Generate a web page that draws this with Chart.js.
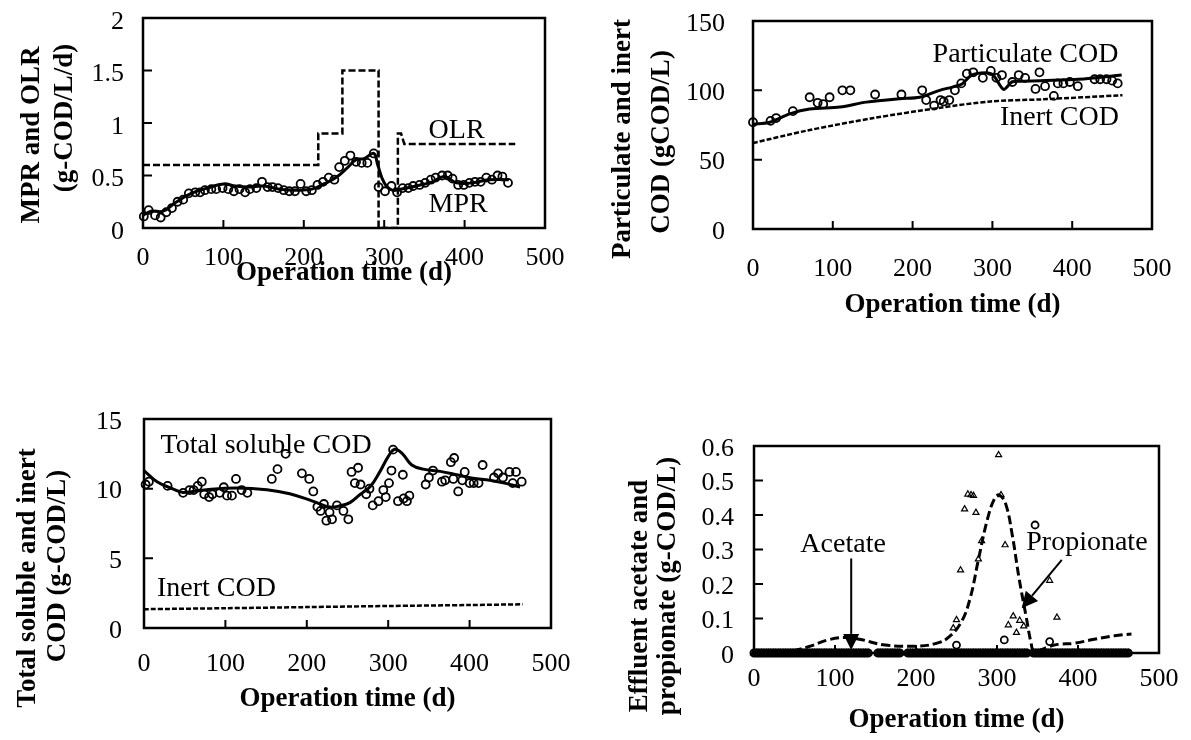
<!DOCTYPE html>
<html lang="en">
<head>
  <meta charset="UTF-8" />
  <title>Digester operation - model vs data</title>
  <script src="https://cdn.jsdelivr.net/npm/chart.js"></script>
  <style>
    body { margin: 0; background: #fff; }
    .wrap { position: relative; width: 1191px; height: 740px; overflow: hidden; }
    canvas { position: absolute; }
  </style>
</head>
<body>
  <div class="wrap">
    <canvas id="c1" width="590" height="295" style="left:0;top:0"></canvas>
    <canvas id="c2" width="601" height="330" style="left:590px;top:0"></canvas>
    <canvas id="c3" width="590" height="350" style="left:0;top:390px"></canvas>
    <canvas id="c4" width="601" height="340" style="left:590px;top:400px"></canvas>
  </div>

  <script>
    // ---- panel 1 : MPR and OLR ----
    const mprDays = [1, 7, 15, 22, 29, 36, 43, 50, 57, 65, 71, 77, 85, 91, 99, 106, 113, 120, 127, 133,
      141, 148, 155, 161, 168, 175, 182, 189, 196, 203, 210, 217, 224, 231, 238, 244, 251, 258, 265, 272,
      279, 287, 293, 301, 309, 316, 323, 330, 336, 344, 351, 358, 364, 372, 379, 385, 392, 399, 406, 413,
      420, 427, 434, 441, 447, 454];
    const mprVals = [0.11, 0.17, 0.12, 0.10, 0.15, 0.19, 0.25, 0.27, 0.33, 0.34, 0.34, 0.36, 0.37, 0.37, 0.38, 0.37, 0.35, 0.37, 0.34, 0.37,
      0.38, 0.44, 0.39, 0.39, 0.38, 0.36, 0.35, 0.35, 0.42, 0.35, 0.36, 0.41, 0.44, 0.48, 0.46, 0.58, 0.64, 0.69, 0.63, 0.62,
      0.62, 0.71, 0.39, 0.35, 0.40, 0.34, 0.38, 0.38, 0.40, 0.41, 0.43, 0.46, 0.48, 0.50, 0.50, 0.47, 0.41, 0.41, 0.43, 0.44,
      0.44, 0.48, 0.46, 0.50, 0.49, 0.43];
    const mprModelDays = [0, 10, 25, 40, 60, 80, 100, 115, 130, 150, 170, 190, 210, 225, 240, 255, 265, 275, 287, 292, 300, 310, 320, 340, 360, 375, 390, 410, 430, 455];
    const mprModelVals = [0.12, 0.16, 0.16, 0.24, 0.33, 0.38, 0.42, 0.40, 0.39, 0.40, 0.37, 0.36, 0.37, 0.42, 0.48, 0.58, 0.65, 0.66, 0.71, 0.60, 0.43, 0.36, 0.37, 0.40, 0.44, 0.49, 0.43, 0.43, 0.46, 0.46];
    const olrDays = [0, 218, 218, 248, 248, 293, 293, 317, 317, 321, 325, 463];
    const olrVals = [0.6, 0.6, 0.9, 0.9, 1.5, 1.5, 0, 0, 0.9, 0.9, 0.8, 0.8];

    // ---- panel 2 : particulate and inert COD ----
    const partDays = [0, 22, 29, 50, 71, 81, 88, 96, 112, 122, 153, 186, 212, 217, 227, 235, 239, 246, 253, 261,
      268, 276, 288, 298, 305, 312, 325, 333, 341, 354, 359, 366, 377, 382, 389, 397, 407, 428, 435, 443, 450, 457];
    const partVals = [77, 78, 80, 85, 95, 91, 90, 95, 100, 100, 97, 97, 100, 93, 89, 93, 92, 93, 100, 105,
      112, 113, 109, 114, 109, 111, 106, 111, 109, 101, 113, 103, 96, 105, 105, 106, 103, 108, 108, 108, 107, 105];
    const partModelDays = [0, 21, 46, 71, 109, 142, 184, 209, 234, 251, 262, 274, 291, 301, 314, 325, 339, 360, 408, 462];
    const partModelVals = [75.5, 77, 83, 86.5, 88, 91.5, 94, 95, 100, 102.5, 104.6, 111, 112.7, 111, 100.7, 106.2, 106.5, 107, 108, 111];
    const inertPartDays = [0, 68, 151, 235, 298, 362, 463];
    const inertPartVals = [62, 71, 80, 87.5, 92, 93.5, 96.5];

    // ---- panel 3 : total soluble and inert COD ----
    const tsDays = [2, 6, 29, 48, 56, 61, 66, 71, 74, 80, 84, 93, 98, 102, 108, 113, 120, 127, 157, 164,
      174, 194, 203, 208, 213, 217, 221, 224, 228, 231, 237, 245, 251, 255, 259, 263, 266, 273, 277, 281,
      288, 294, 297, 301, 304, 306, 312, 318, 319, 323, 326, 346, 350, 355, 366, 370, 377, 380, 381, 386,
      391, 394, 400, 405, 411, 416, 430, 435, 441, 449, 453, 457, 464];
    const tsVals = [10.3, 10.5, 10.2, 9.7, 9.9, 9.9, 10.2, 10.5, 9.6, 9.4, 9.6, 9.7, 10.1, 9.5, 9.5, 10.7, 9.9, 9.7, 10.7, 11.4,
      12.5, 11.1, 10.7, 9.8, 8.7, 8.4, 8.9, 7.7, 8.3, 7.8, 8.8, 8.4, 7.8, 11.2, 10.4, 11.5, 10.3, 9.6, 10.0, 8.8,
      9.1, 9.9, 9.4, 10.4, 11.3, 12.8, 9.1, 11.0, 9.3, 9.1, 9.5, 10.3, 10.8, 11.3, 10.5, 10.6, 11.9, 10.7, 12.2, 9.8,
      10.6, 11.2, 10.4, 10.4, 10.4, 11.7, 10.8, 11.1, 10.8, 11.2, 10.4, 11.2, 10.5];
    const tsModelDays = [0, 16, 36, 48, 77, 114, 151, 179, 208, 228, 241, 253, 265, 278, 290, 300, 308, 317, 329, 343, 364, 384, 404, 425, 446, 462];
    const tsModelVals = [11.3, 10.5, 9.97, 9.73, 9.93, 10.05, 9.93, 9.64, 9.09, 8.68, 8.77, 9.0, 9.56, 10.15, 11.24, 12.3, 12.83, 12.54, 11.7, 11.4, 11.24, 11.0, 10.75, 10.6, 10.36, 10.12];
    const inertSolDays = [0, 100, 200, 300, 400, 465];
    const inertSolVals = [1.35, 1.42, 1.5, 1.58, 1.65, 1.7];

    // ---- panel 4 : effluent acetate and propionate ----
    const propDays = [246, 250, 255, 260, 264, 268, 271, 274, 277, 281, 302, 305, 310, 314, 320, 324, 328, 333, 365, 374];
    const propVals = [0.072, 0.096, 0.24, 0.417, 0.46, 0.458, 0.456, 0.407, 0.272, 0.325, 0.574, 0.458, 0.313, 0.081, 0.107, 0.059, 0.094, 0.078, 0.21, 0.103];
    const acetDays = [250, 309, 347, 365];
    const acetVals = [0.023, 0.038, 0.371, 0.033];
    // days where both acids were measured at zero
    const vfaZeroDays = [0, 3, 6, 9, 12, 15, 18, 21, 24, 27, 30, 33, 36, 39, 42, 45, 48, 51, 54, 57,
      60, 63, 66, 69, 72, 75, 78, 81, 84, 87, 90, 93, 96, 99, 102, 105, 108, 111, 114, 117,
      120, 123, 126, 129, 132, 135, 138, 141, 153, 156, 159, 162, 165, 168, 171, 174, 177, 180,
      190, 193, 196, 199, 202, 205, 208, 211, 214, 217, 220, 223, 226, 229, 232, 235, 238, 241, 244, 247,
      250, 253, 256, 259, 262, 265, 268, 271, 274, 277, 280, 283, 286, 289, 292, 295, 298, 301, 304, 307,
      310, 313, 316, 319, 322, 325, 328, 331, 334, 337, 345, 348, 351, 354, 357, 360, 363, 366, 369, 372,
      375, 378, 381, 384, 387, 390, 393, 396, 399, 402, 405, 408, 411, 414, 417, 420, 423, 426, 429, 432,
      435, 438, 441, 444, 447, 450, 453, 456, 459, 462];
    const vfaZeroVals = vfaZeroDays.map(() => 0);
    const vfaModelDays = [0, 40, 67, 90, 112, 130, 162, 203, 225, 240, 256, 267, 277, 288, 297, 303, 311, 319, 327, 336, 342, 346, 360, 375, 395, 420, 445, 466];
    const vfaModelVals = [0, 0.004, 0.018, 0.037, 0.045, 0.04, 0.023, 0.02, 0.028, 0.045, 0.09, 0.16, 0.27, 0.386, 0.448, 0.458, 0.43, 0.34, 0.22, 0.105, 0.03, 0.003, 0.015, 0.025, 0.028, 0.04, 0.05, 0.055];

    const SERIF = "'Liberation Serif', 'Times New Roman', serif";

    function pts(xs, ys) {
      return xs.map((x, i) => ({ x: x, y: ys[i] }));
    }

    function marks(xs, ys, style, r, bw) {
      return {
        data: pts(xs, ys), showLine: false, clip: false,
        pointStyle: style, pointRadius: r, pointBorderWidth: bw,
        pointBorderColor: '#000', pointBackgroundColor: 'rgba(0,0,0,0)'
      };
    }

    function curve(xs, ys, dash, width, tension) {
      return {
        data: pts(xs, ys), borderColor: '#000', borderWidth: width,
        borderDash: dash, pointRadius: 0, tension: tension, fill: false
      };
    }

    // frame, inward ticks, y title, text notes and arrows
    const framePlugin = {
      id: 'frame',
      beforeDatasetsDraw(chart, args, opts) {
        const ctx = chart.ctx;
        const a = chart.chartArea;
        const sx = chart.scales.x, sy = chart.scales.y;
        ctx.save();
        ctx.strokeStyle = '#000';
        ctx.lineWidth = 2;
        ctx.beginPath();
        sx.ticks.forEach(t => {
          const p = sx.getPixelForValue(t.value);
          if (p > a.left + 2 && p < a.right - 2) { ctx.moveTo(p, a.bottom); ctx.lineTo(p, a.bottom - 8); }
        });
        sy.ticks.forEach(t => {
          const p = sy.getPixelForValue(t.value);
          if (p > a.top + 2 && p < a.bottom - 2) { ctx.moveTo(a.left, p); ctx.lineTo(a.left + 9, p); }
        });
        ctx.stroke();
        ctx.lineWidth = 2.5;
        ctx.strokeRect(a.left, a.top, a.right - a.left, a.bottom - a.top);

        ctx.fillStyle = '#000';
        ctx.font = 'bold 27px ' + SERIF;
        ctx.textAlign = 'center';
        ctx.textBaseline = 'middle';
        (opts.yTitle || []).forEach(l => {
          ctx.save();
          ctx.translate(l.x, l.y);
          ctx.rotate(-Math.PI / 2);
          ctx.fillText(l.text, 0, 0);
          ctx.restore();
        });

        ctx.font = '28px ' + SERIF;
        (opts.notes || []).forEach(n => {
          ctx.fillText(n.text, sx.getPixelForValue(n.x), sy.getPixelForValue(n.y));
        });

        (opts.arrows || []).forEach(ar => {
          const x0 = sx.getPixelForValue(ar.from[0]), y0 = sy.getPixelForValue(ar.from[1]);
          const x1 = sx.getPixelForValue(ar.to[0]), y1 = sy.getPixelForValue(ar.to[1]);
          const ang = Math.atan2(y1 - y0, x1 - x0);
          const hl = 16, hw = 8;
          const bx = x1 - hl * Math.cos(ang), by = y1 - hl * Math.sin(ang);
          ctx.lineWidth = 2;
          ctx.beginPath();
          ctx.moveTo(x0, y0);
          ctx.lineTo(bx, by);
          ctx.stroke();
          ctx.beginPath();
          ctx.moveTo(x1, y1);
          ctx.lineTo(bx + hw * Math.sin(ang), by - hw * Math.cos(ang));
          ctx.lineTo(bx - hw * Math.sin(ang), by + hw * Math.cos(ang));
          ctx.closePath();
          ctx.fill();
        });
        ctx.restore();
      }
    };
    Chart.register(framePlugin);

    function makeChart(id, datasets, o) {
      const tickFont = { family: SERIF, size: 26 };
      return new Chart(document.getElementById(id), {
        type: 'line',
        data: { datasets: datasets },
        options: {
          responsive: false,
          animation: false,
          events: [],
          layout: { padding: { top: o.padTop, right: o.padRight, left: 0, bottom: 0 } },
          plugins: {
            legend: { display: false },
            tooltip: { enabled: false },
            frame: { yTitle: o.yTitle, notes: o.notes, arrows: o.arrows }
          },
          scales: {
            x: {
              type: 'linear', min: 0, max: 500,
              ticks: { stepSize: 100, padding: o.xPad, color: '#000', font: tickFont, maxRotation: 0, autoSkip: false },
              grid: { display: false, drawTicks: false },
              border: { display: false },
              title: {
                display: true, text: 'Operation time (d)', color: '#000',
                font: { family: SERIF, size: 27, weight: 'bold', lineHeight: 1.2 },
                padding: { top: 0, bottom: o.titlePad }
              },
              afterFit: s => { s.height = o.xH; s.paddingLeft = 0; s.paddingRight = 0; }
            },
            y: {
              type: 'linear', min: o.yMin, max: o.yMax,
              ticks: {
                stepSize: o.yStep, padding: o.yPad, labelOffset: o.yOff, color: '#000', font: tickFont,
                callback: v => String(Math.round(v * 10) / 10)
              },
              grid: { display: false, drawTicks: false },
              border: { display: false },
              afterFit: s => { s.width = o.yW; s.paddingTop = 0; s.paddingBottom = 0; }
            }
          }
        }
      });
    }

    makeChart('c1', [
      marks(mprDays, mprVals, 'circle', 4, 1.8),
      curve(mprModelDays, mprModelVals, [], 3, 0.4),
      curve(olrDays, olrVals, [7, 3], 2.5, 0)
    ], {
      padTop: 18, padRight: 45, yW: 143, xH: 67, xPad: 15, titlePad: 6, yPad: 19, yOff: 4,
      yMin: 0, yMax: 2, yStep: 0.5,
      yTitle: [{ text: 'MPR and OLR', x: 32, y: 135 }, { text: '(g-COD/L/d)', x: 65, y: 118 }],
      notes: [{ text: 'OLR', x: 390, y: 0.93 }, { text: 'MPR', x: 392, y: 0.22 }]
    });

    makeChart('c2', [
      marks(partDays, partVals, 'circle', 4, 1.8),
      curve(partModelDays, partModelVals, [], 3, 0.3),
      curve(inertPartDays, inertPartVals, [5, 2], 2.5, 0.3)
    ], {
      padTop: 21, padRight: 39, yW: 163, xH: 101, xPad: 25, titlePad: 9, yPad: 28, yOff: 3,
      yMin: 0, yMax: 150, yStep: 50,
      yTitle: [{ text: 'Particulate and inert', x: 33, y: 139 }, { text: 'COD (gCOD/L)', x: 72, y: 142 }],
      notes: [{ text: 'Particulate COD', x: 341.5, y: 125.5 }, { text: 'Inert COD', x: 384, y: 80 }]
    });

    makeChart('c3', [
      marks(tsDays, tsVals, 'circle', 4, 1.8),
      curve(tsModelDays, tsModelVals, [], 3, 0.4),
      curve(inertSolDays, inertSolVals, [5, 2], 2.5, 0.3)
    ], {
      padTop: 29, padRight: 39, yW: 144, xH: 112, xPad: 21, titlePad: 25, yPad: 22, yOff: 3,
      yMin: 0, yMax: 15, yStep: 5,
      yTitle: [{ text: 'Total soluble and inert', x: 28, y: 188 }, { text: 'COD (g-COD/L)', x: 58, y: 176 }],
      notes: [{ text: 'Total soluble COD', x: 150, y: 13.1 }, { text: 'Inert COD', x: 89, y: 2.85 }]
    });

    makeChart('c4', [
      marks(vfaZeroDays, vfaZeroVals, 'circle', 3.5, 2),
      marks(vfaZeroDays, vfaZeroVals, 'triangle', 3.5, 1.5),
      marks(acetDays, acetVals, 'circle', 3.5, 1.8),
      marks(propDays, propVals, 'triangle', 3.5, 1.2),
      curve(vfaModelDays, vfaModelVals, [9, 4], 3, 0.4)
    ], {
      padTop: 46, padRight: 32, yW: 164, xH: 87, xPad: 11, titlePad: 4, yPad: 20, yOff: 3,
      yMin: 0, yMax: 0.6, yStep: 0.1,
      yTitle: [{ text: 'Effluent acetate and', x: 50, y: 196 }, { text: 'propionate (g-COD/L)', x: 78, y: 186 }],
      notes: [{ text: 'Acetate', x: 110, y: 0.313 }, { text: 'Propionate', x: 411, y: 0.319 }],
      arrows: [{ from: [120, 0.274], to: [120, 0.009] }, { from: [380, 0.27], to: [330.5, 0.13] }]
    });
  </script>
</body>
</html>
